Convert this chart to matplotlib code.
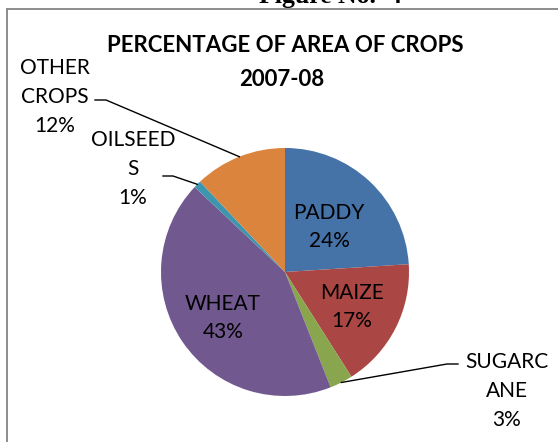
import numpy as np
import matplotlib
matplotlib.use("Agg")
import matplotlib.pyplot as plt
from matplotlib.lines import Line2D

# data
crops = ["PADDY", "MAIZE", "SUGARCANE", "WHEAT", "OILSEEDS", "OTHER CROPS"]
share = [24, 17, 3, 43, 1, 12]
label_text = ["PADDY\n24%", "MAIZE\n17%", "SUGARC\nANE\n3%", "WHEAT\n43%",
              "OILSEED\nS\n1%", "OTHER\nCROPS\n12%"]
colors = ["#4572A7", "#AA4643", "#89A54E", "#71588F", "#3D96AE", "#DB843D"]

W, H = 558, 442
fig = plt.figure(figsize=(W / 100, H / 100), dpi=100)
ax = fig.add_axes([0, 0, 1, 1])

def py(y):
    # pixel row from the top -> axes y
    return H - y

cx, cy, r = 285, py(272), 124
wedges, _ = ax.pie(share, colors=colors, startangle=90, counterclock=False,
                   center=(cx, cy), radius=r, frame=True,
                   wedgeprops=dict(linewidth=0))
ax.set_xlim(0, W)
ax.set_ylim(0, H)
ax.set_aspect("equal")
ax.axis("off")

font = "Lato"
fs = 15
# label positions (x, y from top) and leader start points
label_pos = [(329, 227), (352, 307), (507, 391), (223, 318), (133, 169), (55, 97)]
leader = {2: [(458, 364), (447, 364)],
          4: [(163, 176), (173, 176)],
          5: [(95, 100), (106, 100)]}

for i, w in enumerate(wedges):
    x, y = label_pos[i]
    ls = 1.58 if i in leader else 1.48
    ax.text(x, py(y), label_text[i], ha="center", va="center", fontsize=fs,
            family=font, linespacing=ls, color="black")
    if i in leader:
        mid = np.deg2rad((w.theta1 + w.theta2) / 2)
        ex, ey = cx + r * np.cos(mid), cy + r * np.sin(mid)
        pts = leader[i]
        xs = [p[0] for p in pts] + [ex]
        ys = [py(p[1]) for p in pts] + [ey]
        ax.plot(xs, ys, color="black", lw=1.0)

ax.text(285, py(46), "PERCENTAGE OF AREA OF CROPS", ha="center", va="center",
        fontsize=16, family=font, fontweight="bold")
ax.text(282, py(79), "2007-08", ha="center", va="center",
        fontsize=16, family=font, fontweight="bold")

# page caption (cut off at top) and the frame of the chart box
ax.text(330, py(3.5), "Figure No.  4", ha="center", va="baseline",
        fontsize=18.5, family="Liberation Serif", fontweight="bold")
fig.add_artist(Line2D([7 / W, 1], [py(8.5) / H, py(8.5) / H], color="#8c8c8c", lw=1.4))
fig.add_artist(Line2D([7 / W, 7 / W], [0, py(8.5) / H], color="#8c8c8c", lw=1.4))

fig.savefig("out.png", dpi=100)
